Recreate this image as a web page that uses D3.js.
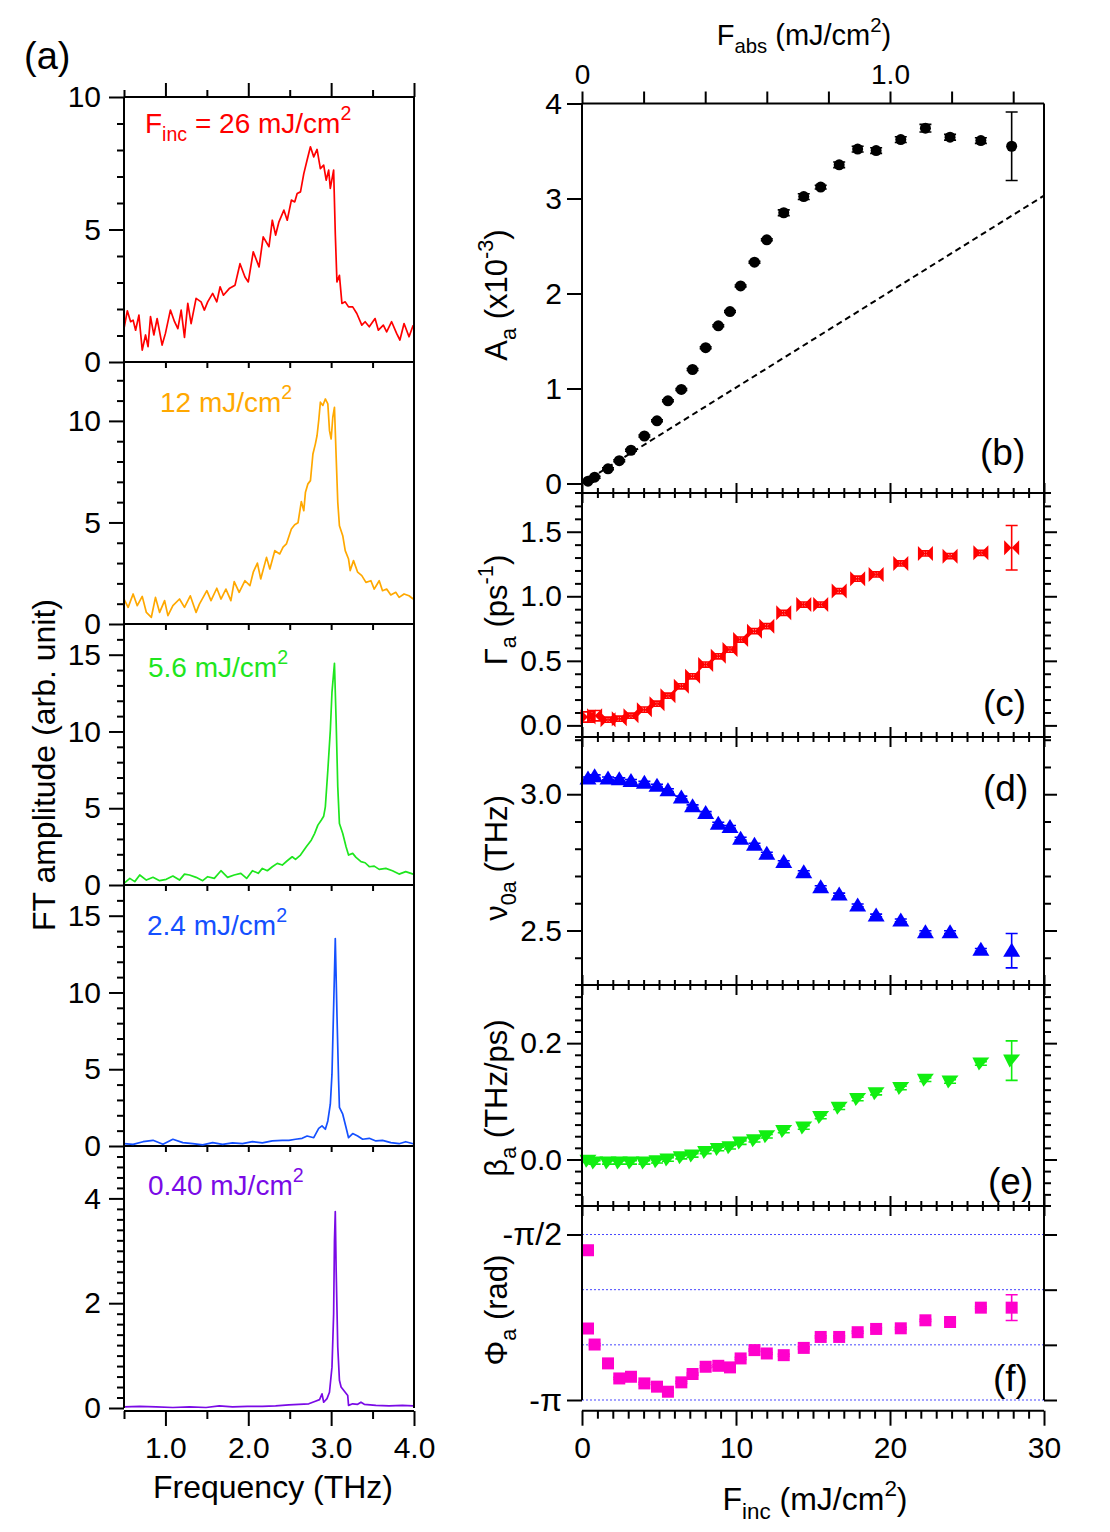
<!DOCTYPE html>
<html>
<head>
<meta charset="utf-8">
<script src="https://cdn.jsdelivr.net/npm/d3@7"></script>
<style>
  body { margin: 0; background: #fff; }
  svg { display: block; }
</style>
</head>
<body>
<script>
// ---- data: FT spectra, [frequency THz, amplitude] ----
var spec26 = [[0.50,1.26],[0.54,1.93],[0.58,1.52],[0.61,1.58],[0.64,1.20],[0.68,1.77],[0.72,0.45],[0.76,1.02],[0.79,0.58],[0.82,1.71],[0.86,1.02],[0.90,1.64],[0.96,0.64],[1.00,1.08],[1.06,1.96],[1.11,1.52],[1.15,1.26],[1.19,1.96],[1.23,0.93],[1.27,2.21],[1.31,1.45],[1.37,2.40],[1.43,2.27],[1.47,1.96],[1.51,2.27],[1.57,2.59],[1.62,2.27],[1.66,2.84],[1.70,2.52],[1.77,2.77],[1.84,2.90],[1.90,3.71],[1.96,3.21],[2.00,3.02],[2.06,4.16],[2.13,3.59],[2.18,4.72],[2.25,4.35],[2.29,5.35],[2.33,4.79],[2.37,5.29],[2.43,5.73],[2.47,5.35],[2.52,6.11],[2.56,6.04],[2.59,6.36],[2.63,6.42],[2.67,7.11],[2.71,7.62],[2.75,8.12],[2.79,7.74],[2.83,8.02],[2.87,7.30],[2.91,7.43],[2.94,6.86],[2.97,7.24],[2.99,6.55],[3.03,7.24],[3.05,4.85],[3.07,3.02],[3.10,3.27],[3.13,2.21],[3.17,2.27],[3.21,2.08],[3.26,2.08],[3.31,1.83],[3.37,1.39],[3.41,1.52],[3.46,1.33],[3.53,1.64],[3.57,1.20],[3.63,1.39],[3.67,1.14],[3.73,1.52],[3.79,1.08],[3.83,0.83],[3.88,1.45],[3.94,0.95],[3.99,1.39]];
var spec12 = [[0.50,1.23],[0.55,0.82],[0.61,1.48],[0.66,0.90],[0.72,1.36],[0.77,0.57],[0.83,0.33],[0.88,1.31],[0.93,0.57],[0.99,1.15],[1.03,0.41],[1.09,0.90],[1.17,1.23],[1.23,0.82],[1.30,1.39],[1.37,0.57],[1.41,0.98],[1.50,1.64],[1.55,1.15],[1.62,1.76],[1.67,1.23],[1.73,1.72],[1.79,1.15],[1.83,2.09],[1.89,1.56],[1.96,2.13],[2.02,1.89],[2.06,2.55],[2.11,3.00],[2.15,2.22],[2.22,3.28],[2.26,2.71],[2.32,3.61],[2.38,3.45],[2.42,3.78],[2.46,3.94],[2.52,4.68],[2.56,4.89],[2.60,4.98],[2.64,6.03],[2.67,5.58],[2.69,6.49],[2.72,6.90],[2.75,7.06],[2.78,8.37],[2.81,8.87],[2.83,9.28],[2.85,10.02],[2.87,10.92],[2.90,10.76],[2.93,11.08],[2.96,10.84],[2.98,9.52],[3.00,9.11],[3.02,10.18],[3.04,10.67],[3.06,8.29],[3.08,5.99],[3.10,4.84],[3.14,4.35],[3.17,3.61],[3.21,3.20],[3.23,2.63],[3.27,3.12],[3.32,2.55],[3.37,2.38],[3.42,2.05],[3.48,2.13],[3.52,1.72],[3.58,2.13],[3.62,1.64],[3.67,1.72],[3.72,1.43],[3.78,1.56],[3.82,1.31],[3.88,1.48],[3.94,1.39],[3.99,1.23]];
var spec5_6 = [[0.50,0.11],[0.57,0.43],[0.63,0.22],[0.69,0.65],[0.77,0.32],[0.85,0.50],[0.93,0.28],[1.01,0.37],[1.09,0.58],[1.17,0.32],[1.23,0.71],[1.29,0.65],[1.37,0.50],[1.45,0.28],[1.51,0.54],[1.59,0.43],[1.67,0.93],[1.75,0.50],[1.83,0.65],[1.91,0.76],[1.98,0.43],[2.05,0.93],[2.12,0.76],[2.17,1.08],[2.23,0.93],[2.29,1.19],[2.35,1.41],[2.41,1.30],[2.47,1.58],[2.53,1.84],[2.57,1.67],[2.63,1.95],[2.70,2.49],[2.76,2.92],[2.80,3.35],[2.84,3.90],[2.88,4.22],[2.91,4.48],[2.93,5.09],[2.96,7.47],[2.99,10.06],[3.01,12.55],[3.04,14.44],[3.06,10.71],[3.08,6.39],[3.10,4.00],[3.14,3.35],[3.18,2.49],[3.21,1.95],[3.26,2.06],[3.30,1.80],[3.36,1.52],[3.41,1.45],[3.46,1.19],[3.52,1.23],[3.58,1.02],[3.66,1.08],[3.74,0.93],[3.82,0.71],[3.90,0.87],[3.99,0.71]];
var spec2_4 = [[0.50,0.15],[0.61,0.11],[0.73,0.28],[0.85,0.37],[0.97,0.11],[1.09,0.44],[1.21,0.22],[1.33,0.15],[1.45,0.07],[1.57,0.22],[1.69,0.11],[1.81,0.20],[1.93,0.15],[2.05,0.28],[2.17,0.20],[2.29,0.33],[2.41,0.37],[2.49,0.37],[2.57,0.44],[2.65,0.50],[2.71,0.65],[2.79,0.54],[2.85,1.15],[2.89,1.31],[2.93,1.09],[2.96,1.63],[2.99,2.72],[3.01,4.68],[3.03,9.04],[3.05,13.51],[3.07,8.61],[3.09,4.25],[3.10,2.51],[3.14,2.07],[3.18,1.20],[3.21,0.54],[3.26,0.81],[3.32,0.65],[3.38,0.44],[3.46,0.50],[3.54,0.33],[3.62,0.37],[3.72,0.22],[3.82,0.15],[3.90,0.28],[3.99,0.15]];
var spec0_40 = [[0.50,0.02],[0.69,0.03],[0.89,0.02],[1.09,0.01],[1.29,0.02],[1.49,0.01],[1.65,0.04],[1.81,0.02],[1.99,0.03],[2.17,0.03],[2.33,0.04],[2.49,0.06],[2.61,0.07],[2.73,0.08],[2.81,0.13],[2.86,0.16],[2.89,0.27],[2.91,0.11],[2.95,0.18],[2.98,0.30],[3.01,0.78],[3.03,1.79],[3.04,3.19],[3.05,3.75],[3.06,2.68],[3.08,1.16],[3.10,0.53],[3.12,0.40],[3.16,0.32],[3.20,0.24],[3.21,0.05],[3.26,0.08],[3.32,0.07],[3.36,0.11],[3.40,0.07],[3.54,0.05],[3.70,0.04],[3.86,0.05],[3.99,0.04]];

// ---- data: fit parameters vs incident fluence (mJ/cm2) ----
var fluence = [0.39,0.82,1.69,2.42,3.18,4.05,4.87,5.58,6.45,7.18,8.03,8.85,9.61,10.3,11.2,12.0,13.1,14.4,15.5,16.7,17.9,19.1,20.7,22.3,23.9,25.9,27.9];
var ampA = [0.024,0.066,0.155,0.24,0.35,0.50,0.66,0.87,0.99,1.20,1.43,1.66,1.81,2.08,2.33,2.565,2.85,3.02,3.12,3.355,3.52,3.505,3.62,3.74,3.645,3.61,3.55];
var ampErr = [0.01,0.01,0.01,0.01,0.01,0.01,0.01,0.01,0.01,0.01,0.01,0.01,0.01,0.01,0.01,0.01,0.03,0.03,0.02,0.03,0.03,0.03,0.03,0.04,0.03,0.03,0.36];
var gammaA = [0.065,0.075,0.044,0.052,0.075,0.122,0.168,0.23,0.303,0.38,0.471,0.535,0.587,0.665,0.73,0.768,0.872,0.936,0.936,1.04,1.136,1.169,1.254,1.332,1.311,1.337,1.376];
var gammaErr = [0.04,0.04,0.02,0.02,0.02,0.02,0.02,0.02,0.02,0.02,0.02,0.02,0.02,0.02,0.02,0.02,0.02,0.02,0.02,0.02,0.02,0.02,0.02,0.02,0.02,0.02,0.172];
var nuA = [3.058,3.066,3.058,3.055,3.049,3.042,3.031,3.015,2.988,2.956,2.931,2.892,2.880,2.837,2.815,2.782,2.751,2.714,2.659,2.632,2.592,2.555,2.537,2.494,2.494,2.429,2.426];
var nuErr = [0.005,0.005,0.005,0.005,0.005,0.005,0.005,0.005,0.005,0.005,0.005,0.005,0.005,0.005,0.005,0.005,0.005,0.005,0.005,0.005,0.005,0.005,0.005,0.005,0.005,0.005,0.063];
var betaA = [-0.002,-0.005,-0.005,-0.005,-0.005,-0.005,-0.003,0.0,0.004,0.007,0.013,0.018,0.021,0.029,0.033,0.04,0.049,0.055,0.073,0.089,0.104,0.114,0.123,0.137,0.134,0.165,0.17];
var betaErr = [0.003,0.003,0.003,0.003,0.003,0.003,0.003,0.003,0.003,0.003,0.003,0.003,0.003,0.003,0.003,0.003,0.003,0.003,0.003,0.003,0.003,0.003,0.003,0.003,0.003,0.003,0.034];
var phiA = [-2.463,-2.615,-2.794,-2.937,-2.921,-2.984,-3.015,-3.063,-2.974,-2.895,-2.826,-2.817,-2.832,-2.747,-2.668,-2.700,-2.716,-2.647,-2.543,-2.543,-2.498,-2.467,-2.461,-2.385,-2.401,-2.265,-2.265];
var phiErr = [0.01,0.01,0.01,0.01,0.01,0.01,0.01,0.01,0.01,0.01,0.01,0.01,0.01,0.01,0.01,0.01,0.01,0.01,0.01,0.01,0.01,0.01,0.01,0.01,0.01,0.01,0.122];
var phiExtra = [[0.39,-1.72]];          // second phase point at the lowest fluence
var linearSlope = [[0,0],[30,3.03]];    // dashed linear guide in (b)
var phiLines = [-Math.PI/2, -2*Math.PI/3, -5*Math.PI/6, -Math.PI];

var FONT = "'Liberation Sans', Arial, Helvetica, sans-serif";
var TICK = 30;

var svg = d3.select("body").append("svg")
    .attr("width", 1110)
    .attr("height", 1532)
    .attr("font-family", FONT);

// writes text with sub/superscripts, parts = [[text, "sub"|"sup"|null], ...]
function rich(sel, parts, size) {
  var shift = 0;
  parts.forEach(function(p) {
    var target = p[1] == "sub" ? 0.28 * size : p[1] == "sup" ? -0.45 * size : 0;
    sel.append("tspan")
        .attr("dy", target - shift)
        .attr("font-size", p[1] ? size * 0.7 : size)
        .text(p[0]);
    shift = target;
  });
  return sel;
}

function styleAxis(g, size) {
  g.select(".domain").remove();
  g.selectAll(".tick line").attr("stroke", "#000").attr("stroke-width", 2);
  g.selectAll(".tick text").attr("font-size", size || TICK).attr("font-family", FONT).attr("fill", "#000");
}

function hline(y, x0, x1) {
  svg.append("line").attr("x1", x0).attr("x2", x1).attr("y1", y).attr("y2", y)
      .attr("stroke", "#000").attr("stroke-width", 2);
}
function vline(x, y0, y1) {
  svg.append("line").attr("x1", x).attr("x2", x).attr("y1", y0).attr("y2", y1)
      .attr("stroke", "#000").attr("stroke-width", 2);
}

// ================= (a) spectra =================
var xL = d3.scaleLinear().domain([0.5, 4.0]).range([124, 414]);
var freqMajor = [1, 2, 3, 4];
var freqMinor = [0.5, 1.5, 2.5, 3.5];
var freqInner = [1, 1.5, 2, 2.5, 3, 3.5];

var spectra = [
  {data: spec26,  top: 97,   bottom: 362,  ymax: 10,   major: [0,5,10],    minor: 1,   color: "#ff0000", lx: 145, ly: 133,
   label: [["F", null], ["inc", "sub"], [" = 26 mJ/cm", null], ["2", "sup"]]},
  {data: spec12,  top: 362,  bottom: 624,  ymax: 12.9, major: [0,5,10],    minor: 1,   color: "#ffa800", lx: 160, ly: 412,
   label: [["12 mJ/cm", null], ["2", "sup"]]},
  {data: spec5_6, top: 624,  bottom: 885,  ymax: 17,   major: [0,5,10,15], minor: 1,   color: "#1ee61e", lx: 148, ly: 677,
   label: [["5.6 mJ/cm", null], ["2", "sup"]]},
  {data: spec2_4, top: 885,  bottom: 1146, ymax: 17,   major: [0,5,10,15], minor: 1,   color: "#1450ff", lx: 147, ly: 935,
   label: [["2.4 mJ/cm", null], ["2", "sup"]]},
  {data: spec0_40, top: 1146, bottom: 1408, ymax: 5,   major: [0,2,4],     minor: 0.2, color: "#7a0ae6", lx: 148, ly: 1195,
   label: [["0.40 mJ/cm", null], ["2", "sup"]]}
];

spectra.forEach(function(p, i) {
  var y = d3.scaleLinear().domain([0, p.ymax]).range([p.bottom, p.top]);
  var minors = d3.range(0, p.ymax, p.minor).filter(function(v) {
    return p.major.every(function(m) { return Math.abs(m - v) > 1e-6; });
  });

  svg.append("g").attr("transform", "translate(124,0)")
      .call(d3.axisLeft(y).tickValues(minors).tickSize(7).tickFormat(""))
      .call(styleAxis);
  svg.append("g").attr("transform", "translate(124,0)")
      .call(d3.axisLeft(y).tickValues(p.major).tickSize(15).tickPadding(8).tickFormat(d3.format("d")))
      .call(styleAxis);

  // boundary line to the panel below, ticks pointing down
  if (i < spectra.length - 1) {
    hline(p.bottom, 124, 414);
    svg.append("g").attr("transform", "translate(0," + p.bottom + ")")
        .call(d3.axisBottom(xL).tickValues(freqInner).tickSize(6).tickFormat(""))
        .call(styleAxis);
  }

  var line = d3.line()
      .x(function(d) { return xL(d[0]); })
      .y(function(d) { return y(d[1]); });
  svg.append("path")
      .datum(p.data)
      .attr("fill", "none")
      .attr("stroke", p.color)
      .attr("stroke-width", 1.7)
      .attr("stroke-linejoin", "round")
      .attr("d", line);

  rich(svg.append("text").attr("x", p.lx).attr("y", p.ly).attr("fill", p.color), p.label, 28);
});

// frame of (a)
vline(124, 97, 1408);
vline(414, 97, 1408);
hline(97, 124, 414);
hline(1411, 124, 414);

// top ticks (no labels)
svg.append("g").attr("transform", "translate(0,97)")
    .call(d3.axisTop(xL).tickValues(freqMinor).tickSize(7).tickFormat(""))
    .call(styleAxis);
svg.append("g").attr("transform", "translate(0,97)")
    .call(d3.axisTop(xL).tickValues(freqMajor).tickSize(14).tickFormat(""))
    .call(styleAxis);

// bottom frequency axis
svg.append("g").attr("transform", "translate(0,1411)")
    .call(d3.axisBottom(xL).tickValues(freqMinor).tickSize(8).tickFormat(""))
    .call(styleAxis);
svg.append("g").attr("transform", "translate(0,1411)")
    .call(d3.axisBottom(xL).tickValues(freqMajor).tickSize(15).tickPadding(11).tickFormat(d3.format(".1f")))
    .call(styleAxis);

svg.append("text").attr("x", 273).attr("y", 1498).attr("text-anchor", "middle")
    .attr("font-size", 32).text("Frequency (THz)");
svg.append("text").attr("transform", "translate(55,765) rotate(-90)").attr("text-anchor", "middle")
    .attr("font-size", 32).text("FT amplitude (arb. unit)");
svg.append("text").attr("x", 24).attr("y", 69).attr("font-size", 38).text("(a)");

// ================= (b)-(f) fit parameters =================
var xR = d3.scaleLinear().domain([0, 30]).range([582, 1044]);
var xAbs = d3.scaleLinear().domain([0, 1.5]).range([582, 1044]);
var fMajor = [0, 10, 20, 30];
var fMinor = d3.range(0, 31).filter(function(v) { return v % 10 != 0; });

function sq(s) { return "M" + (-s) + "," + (-s) + "H" + s + "V" + s + "H" + (-s) + "Z"; }

var params = [
  {key: "b", vals: ampA,   err: ampErr,   top: 103.5, bottom: 493,  dom: [-0.1, 4.0],
   major: [0,1,2,3,4], minor: [], fmt: d3.format("d"), color: "#000", right: false,
   marker: "M-5.5,0A5.5,5.5 0 1,1 5.5,0A5.5,5.5 0 1,1 -5.5,0Z",
   title: [["A", null], ["a", "sub"], [" (x10", null], ["-3", "sup"], [")", null]], ty: 295,
   tag: "(b)", tagX: 980, tagY: 465},
  {key: "c", vals: gammaA, err: gammaErr, top: 493,   bottom: 737,  dom: [-0.09, 1.8],
   major: [0,0.5,1.0,1.5], minor: [0.1,0.2,0.3,0.4,0.6,0.7,0.8,0.9,1.1,1.2,1.3,1.4,1.6,1.7],
   fmt: d3.format(".1f"), color: "#ff0000", right: true,
   marker: "M-7.5,-7.5L0,0L-7.5,7.5Z M7.5,-7.5L0,0L7.5,7.5Z",
   title: [["Γ", null], ["a", "sub"], [" (ps", null], ["-1", "sup"], [")", null]], ty: 610,
   tag: "(c)", tagX: 983, tagY: 716},
  {key: "d", vals: nuA,    err: nuErr,    top: 737,   bottom: 985,  dom: [2.3, 3.21],
   major: [2.5, 3.0], minor: [2.4, 2.6, 2.7, 2.8, 2.9, 3.1, 3.2], fmt: d3.format(".1f"), color: "#0000ff", right: true,
   marker: "M0,-8L8.5,6L-8.5,6Z",
   title: [["ν", null], ["0a", "sub"], [" (THz)", null]], ty: 858,
   tag: "(d)", tagX: 983, tagY: 801},
  {key: "e", vals: betaA,  err: betaErr,  top: 985,   bottom: 1206, dom: [-0.08, 0.3],
   major: [0, 0.2], minor: [-0.06,-0.04,-0.02,0.02,0.04,0.06,0.08,0.1,0.12,0.14,0.16,0.18,0.22,0.24,0.26,0.28], fmt: d3.format(".1f"), color: "#11ee11", right: true,
   marker: "M-8.5,-6L8.5,-6L-2,7Z",
   title: [["β", null], ["a", "sub"], [" (THz/ps)", null]], ty: 1098,
   tag: "(e)", tagX: 988, tagY: 1194},
  {key: "f", vals: phiA,   err: phiErr,   top: 1206,  bottom: 1400, dom: [-Math.PI, -1.30],
   major: [-Math.PI/2, -Math.PI], minor: [], fmt: function(v) { return v < -3 ? "-π" : "-π/2"; }, color: "#ff00cc", right: true,
   marker: sq(6),
   title: [["Φ", null], ["a", "sub"], [" (rad)", null]], ty: 1310,
   tag: "(f)", tagX: 993, tagY: 1391}
];

params.forEach(function(p, i) {
  var y = d3.scaleLinear().domain(p.dom).range([p.bottom, p.top]);

  if (p.key == "f") {
    // dotted reference lines
    svg.append("g").selectAll("line").data(phiLines).enter().append("line")
        .attr("x1", xR(0)).attr("x2", xR(30))
        .attr("y1", function(d) { return y(d); }).attr("y2", function(d) { return y(d); })
        .attr("stroke", "#4646ff").attr("stroke-width", 1).attr("stroke-dasharray", "2,2");
  }

  // left ticks and labels
  if (p.minor.length) {
    svg.append("g").attr("transform", "translate(582,0)")
        .call(d3.axisLeft(y).tickValues(p.minor).tickSize(7).tickFormat(""))
        .call(styleAxis);
  }
  svg.append("g").attr("transform", "translate(582,0)")
      .call(d3.axisLeft(y).tickValues(p.major).tickSize(15).tickPadding(5).tickFormat(p.fmt))
      .call(function(g) { styleAxis(g, p.key == "f" ? 32 : TICK); });

  // mirrored ticks on the right
  if (p.right) {
    var rMajor = p.key == "f" ? phiLines : p.major;
    svg.append("g").attr("transform", "translate(1044,0)")
        .call(d3.axisRight(y).tickValues(rMajor).tickSize(13).tickFormat(""))
        .call(styleAxis);
    if (p.minor.length) {
      svg.append("g").attr("transform", "translate(1044,0)")
          .call(d3.axisRight(y).tickValues(p.minor).tickSize(7).tickFormat(""))
          .call(styleAxis);
    }
  }

  // boundary with the panel below, ticks crossing the line
  if (i < params.length - 1) {
    hline(p.bottom, 575, 1051);
    var gm = svg.append("g").attr("transform", "translate(0," + p.bottom + ")")
        .call(d3.axisBottom(xR).tickValues(fMinor).tickSize(5).tickFormat(""))
        .call(styleAxis);
    gm.selectAll(".tick line").attr("y1", -5);
    var gM = svg.append("g").attr("transform", "translate(0," + p.bottom + ")")
        .call(d3.axisBottom(xR).tickValues(fMajor).tickSize(10).tickFormat(""))
        .call(styleAxis);
    gM.selectAll(".tick line").attr("y1", -10);
  }

  if (p.key == "b") {
    svg.append("path")
        .datum(linearSlope)
        .attr("fill", "none")
        .attr("stroke", "#000")
        .attr("stroke-width", 2)
        .attr("stroke-dasharray", "6,4")
        .attr("d", d3.line().x(function(d) { return xR(d[0]); }).y(function(d) { return y(d[1]); }));
  }

  var pts = fluence.map(function(f, j) { return {f: f, v: p.vals[j], e: p.err[j]}; });
  if (p.key == "f") {
    phiExtra.forEach(function(d) { pts.push({f: d[0], v: d[1], e: 0.01}); });
  }

  // error bars
  var eb = svg.append("g").attr("stroke", p.color).attr("stroke-width", 1.6);
  eb.selectAll(".bar").data(pts).enter().append("path")
      .attr("fill", "none")
      .attr("d", function(d) {
        var x = xR(d.f), y0 = y(d.v - d.e), y1 = y(d.v + d.e);
        return "M" + x + "," + y0 + "V" + y1 +
               "M" + (x - 6) + "," + y0 + "H" + (x + 6) +
               "M" + (x - 6) + "," + y1 + "H" + (x + 6);
      });

  // markers
  svg.append("g").selectAll(".pt").data(pts).enter().append("path")
      .attr("transform", function(d) { return "translate(" + xR(d.f) + "," + y(d.v) + ")"; })
      .attr("d", p.marker)
      .attr("fill", p.color);

  rich(svg.append("text")
      .attr("transform", "translate(507," + p.ty + ") rotate(-90)")
      .attr("text-anchor", "middle"), p.title, 31);

  svg.append("text").attr("x", p.tagX).attr("y", p.tagY).attr("font-size", 37).text(p.tag);
});

// frame of the right column
vline(582, 103.5, 1400);
vline(1044, 103.5, 1400);
hline(103.5, 582, 1044);
hline(1410.7, 582, 1044);

// top: absorbed fluence
svg.append("g").attr("transform", "translate(0,103.5)")
    .call(d3.axisTop(xAbs).tickValues(d3.range(0, 1.5, 0.2)).tickSize(12)
      .tickPadding(8).tickFormat(function(v) { return v == 0 ? "0" : Math.abs(v - 1) < 1e-6 ? "1.0" : ""; }))
    .call(function(g) { styleAxis(g, 28); });

// bottom: incident fluence
svg.append("g").attr("transform", "translate(0,1410.7)")
    .call(d3.axisBottom(xR).tickValues(fMinor).tickSize(8).tickFormat(""))
    .call(styleAxis);
svg.append("g").attr("transform", "translate(0,1410.7)")
    .call(d3.axisBottom(xR).tickValues(fMajor).tickSize(15).tickPadding(11).tickFormat(d3.format("d")))
    .call(styleAxis);

rich(svg.append("text").attr("x", 804).attr("y", 45).attr("text-anchor", "middle"),
    [["F", null], ["abs", "sub"], [" (mJ/cm", null], ["2", "sup"], [")", null]], 29);
rich(svg.append("text").attr("x", 815).attr("y", 1510).attr("text-anchor", "middle"),
    [["F", null], ["inc", "sub"], [" (mJ/cm", null], ["2", "sup"], [")", null]], 32);
</script>
</body>
</html>
